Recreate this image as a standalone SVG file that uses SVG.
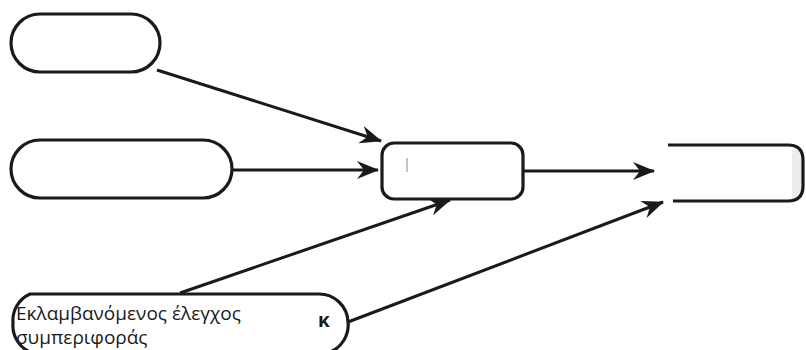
<svg xmlns="http://www.w3.org/2000/svg" width="806" height="350" viewBox="0 0 806 350">
  <style>
    .node { fill: #ffffff; stroke: #1a1a1a; stroke-width: 3.2; }
    .edge { fill: none; stroke: #1a1a1a; stroke-width: 3; marker-end: url(#arrow); }
    .label { font-family: "Open Sans", "Noto Sans", sans-serif; font-size: 19px; fill: #1a1a1a; }
  </style>
  <defs>
    <marker id="arrow" viewBox="0 0 22 18" refX="21" refY="9" markerWidth="22" markerHeight="18" markerUnits="userSpaceOnUse" orient="auto">
      <path d="M0,0 L22,9 L0,18 L7,9 Z" fill="#1a1a1a"/>
    </marker>
  </defs>
  <rect width="806" height="350" fill="#ffffff"/>

  <g id="connectors">
    <line class="edge" x1="157" y1="70" x2="381" y2="141"/>
    <line class="edge" x1="232" y1="170" x2="378" y2="170"/>
    <line class="edge" x1="180" y1="293" x2="450" y2="200"/>
    <line class="edge" x1="348" y1="322" x2="663" y2="202"/>
    <line class="edge" x1="523" y1="171" x2="654" y2="171"/>
  </g>

  <g id="node-top">
    <rect class="node" x="11" y="14" width="149" height="58" rx="29"/>
  </g>

  <g id="node-middle">
    <rect class="node" x="11" y="140" width="221" height="58" rx="29"/>
  </g>

  <g id="node-center">
    <rect class="node" x="382" y="143" width="141" height="56" rx="12"/>
    <line x1="407" y1="158" x2="407" y2="172" stroke="#9a9a9a" stroke-width="1.2"/>
  </g>

  <g id="node-right">
    <rect x="792" y="150" width="10" height="48" fill="#ececec"/>
    <path class="node" d="M668,145 L788,145 Q803,145 803,160 L803,186 Q803,201 788,201 L673,201" style="fill:none"/>
  </g>

  <g id="node-bottom">
    <path class="node" d="M30,294 L318,294 A29,29 0 0 1 348,322 A29,29 0 0 1 330,352 L30,352 A29,29 0 0 1 13,323 A29,29 0 0 1 30,294 Z"/>
    <text class="label" x="16" y="320">Εκλαμβανόμενος έλεγχος</text>
    <text class="label" x="16" y="344">συμπεριφοράς</text>
    <text class="label" x="318" y="327" font-weight="bold">κ</text>
  </g>
</svg>
